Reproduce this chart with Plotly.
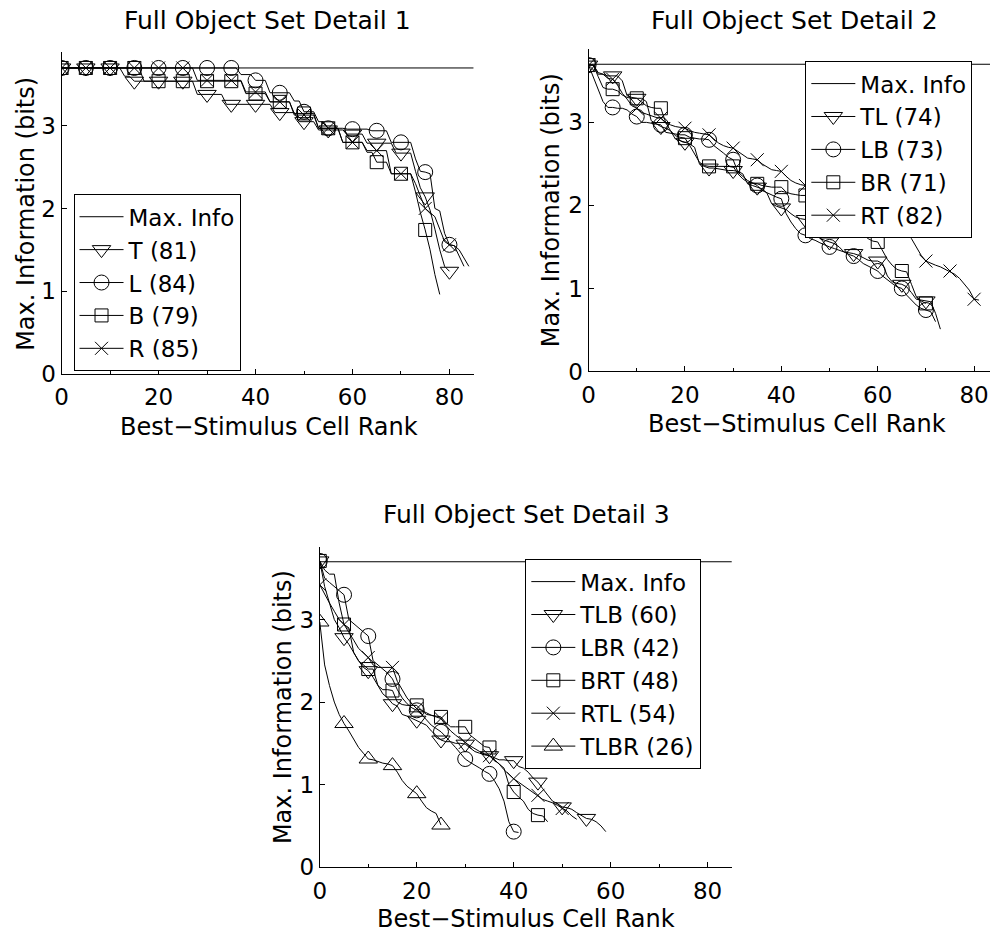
import plotly.graph_objects as go

W, H = 992, 939
FONT = "DejaVu Sans"
FS_TITLE = 25
FS_LABEL = 24
FS_TICK = 23
FS_LEG = 23

MAX_INFO = 3.70
TITLES = ["Full Object Set Detail 1", "Full Object Set Detail 2", "Full Object Set Detail 3"]
X_LABEL = "Best\u2212Stimulus Cell Rank"
Y_LABEL = "Max. Information (bits)"
X_TICKS = [0, 20, 40, 60, 80]
X_MINOR = [10, 30, 50, 70]
Y_TICKS = [0, 1, 2, 3]
X_MAX = [85, 83.3, 85]
Y_MAX = [3.89, 3.88, 3.875]

# ---------- panel 1 ----------
P1_T = [3.70, 3.70, 3.70, 3.70, 3.70, 3.70, 3.70, 3.70, 3.70, 3.70, 3.70, 3.70, 3.70,
        3.60, 3.60,
        3.54, 3.54, 3.54, 3.54, 3.54, 3.54, 3.54, 3.54, 3.54, 3.54, 3.54, 3.54, 3.54,
        3.38, 3.38, 3.38, 3.38, 3.38, 3.38,
        3.26, 3.26, 3.26, 3.26, 3.26, 3.26, 3.26, 3.26, 3.26, 3.26,
        3.16, 3.16, 3.16, 3.16, 3.16,
        3.05, 3.05, 3.05, 3.05,
        2.95, 2.95, 2.95, 2.95, 2.95, 2.95,
        2.90, 2.90, 2.90, 2.90,
        2.79, 2.79, 2.79, 2.79, 2.79, 2.79,
        2.67, 2.67, 2.67, 2.67,
        2.45, 2.25, 2.14, 1.98, 1.75, 1.50, 1.30, 1.24]
P1_L = [3.70, 3.70, 3.70, 3.70, 3.70, 3.70, 3.70, 3.70, 3.70, 3.70,
        3.70, 3.70, 3.70, 3.70, 3.70, 3.70, 3.70, 3.70, 3.70, 3.70,
        3.70, 3.70, 3.70, 3.70, 3.70, 3.70, 3.70, 3.70, 3.70, 3.70,
        3.70, 3.70, 3.70, 3.70, 3.70, 3.70, 3.70,
        3.62, 3.62, 3.62,
        3.55, 3.55, 3.55,
        3.40, 3.40, 3.40, 3.40, 3.40,
        3.30, 3.30,
        3.17, 3.17, 3.17,
        3.05, 3.05,
        2.97, 2.97, 2.97, 2.97,
        2.96, 2.96, 2.96, 2.96, 2.96,
        2.94, 2.94, 2.94, 2.94,
        2.80, 2.80, 2.80, 2.80, 2.80,
        2.60, 2.45, 2.44, 2.42, 2.00, 1.97, 1.70, 1.56, 1.55, 1.42, 1.30]
P1_B = [3.70, 3.70, 3.70, 3.70, 3.70, 3.70, 3.70, 3.70, 3.70, 3.70,
        3.70, 3.70, 3.70, 3.70, 3.70, 3.70, 3.70,
        3.54, 3.54, 3.54, 3.54, 3.54, 3.54, 3.54, 3.54, 3.54, 3.54, 3.54, 3.54,
        3.54, 3.54, 3.54, 3.54, 3.54, 3.54, 3.54, 3.54, 3.54,
        3.39, 3.39, 3.39, 3.39, 3.39,
        3.29, 3.29, 3.29, 3.29, 3.29,
        3.15, 3.15, 3.15, 3.15, 3.15,
        2.97, 2.97, 2.97, 2.97, 2.97,
        2.80, 2.80, 2.80, 2.80, 2.80,
        2.68, 2.68,
        2.56, 2.56, 2.56,
        2.42, 2.42, 2.42, 2.42, 2.42,
        2.20, 1.95, 1.74, 1.50, 1.20, 0.96]
P1_R = [3.70, 3.70, 3.70, 3.70, 3.70, 3.70, 3.70, 3.70, 3.70, 3.70,
        3.70, 3.70, 3.70, 3.70, 3.70, 3.70, 3.70, 3.70, 3.70, 3.70,
        3.70, 3.70, 3.70, 3.70, 3.70, 3.70, 3.70, 3.70,
        3.55, 3.55, 3.55, 3.55, 3.55, 3.55, 3.55, 3.55, 3.55, 3.55,
        3.41, 3.41, 3.41, 3.41, 3.41,
        3.29, 3.29, 3.29, 3.29, 3.29,
        3.13, 3.13, 3.13, 3.13, 3.13,
        2.97, 2.97, 2.97, 2.97, 2.97,
        2.80, 2.80, 2.80, 2.80, 2.80,
        2.70, 2.70, 2.70, 2.70, 2.70,
        2.42, 2.42, 2.42, 2.42, 2.42,
        2.30, 2.15, 2.00, 1.95, 1.90, 1.75, 1.60, 1.56, 1.55, 1.50, 1.40, 1.30]

# ---------- panel 2 ----------
P2_TL = [3.69, 3.69, 3.58, 3.58, 3.56, 3.56, 3.56, 3.50,
         3.32, 3.30, 3.29, 3.29, 3.25,
         3.02, 2.98, 2.95, 2.93, 2.90,
         2.80, 2.78, 2.76, 2.74, 2.70,
         2.50, 2.47, 2.45, 2.45, 2.44,
         2.43, 2.42, 2.42, 2.41, 2.38,
         2.26, 2.24, 2.22, 2.20, 2.15,
         2.02, 1.99, 1.97, 1.95, 1.90,
         1.86, 1.84, 1.83, 1.80, 1.70,
         1.60, 1.58, 1.56, 1.54, 1.50,
         1.44, 1.43, 1.42, 1.40, 1.37,
         1.34, 1.33, 1.33, 1.30, 1.15,
         1.08, 1.06, 1.05, 1.02, 0.95,
         0.87, 0.86, 0.85, 0.84,
         0.70, 0.51]
P2_LB = [3.69, 3.55, 3.40, 3.25, 3.18, 3.18, 3.17, 3.17, 3.15, 3.10,
         3.07, 3.00, 3.00, 2.99, 2.98, 2.97, 2.88, 2.87, 2.86, 2.85,
         2.85, 2.82, 2.81, 2.80, 2.80, 2.79, 2.72, 2.68, 2.63, 2.58,
         2.55, 2.40, 2.35, 2.30, 2.27, 2.24, 2.18, 2.15, 2.12, 2.10,
         2.08, 1.90, 1.80, 1.72, 1.66, 1.64, 1.60, 1.58, 1.55, 1.52,
         1.50, 1.48, 1.46, 1.44, 1.41, 1.39, 1.35, 1.30, 1.27, 1.24,
         1.21, 1.15, 1.10, 1.06, 1.02, 1.00, 0.92, 0.86, 0.80, 0.76,
         0.74, 0.72, 0.60]
P2_BR = [3.69, 3.69, 3.55, 3.42, 3.40, 3.40, 3.38, 3.33, 3.30, 3.29,
         3.29, 3.25, 3.20, 3.18, 3.17, 3.17, 3.00, 2.90, 2.84, 2.82,
         2.81, 2.72, 2.62, 2.52, 2.48, 2.47, 2.47, 2.47, 2.47, 2.47,
         2.47, 2.38, 2.32, 2.28, 2.27, 2.26, 2.24, 2.23, 2.22, 2.22,
         2.22, 2.16, 2.14, 2.13, 2.12, 2.12, 2.05, 2.00, 1.97, 1.95,
         1.94, 1.90, 1.85, 1.82, 1.80, 1.78, 1.72, 1.65, 1.60, 1.57,
         1.56, 1.45, 1.35, 1.28, 1.23, 1.21, 1.20, 1.05, 0.90, 0.85,
         0.82]
P2_RT = [3.69, 3.69, 3.60, 3.58, 3.53, 3.52, 3.45, 3.35, 3.28, 3.20,
         3.17, 3.12, 3.10, 3.08, 3.06, 3.05, 3.00, 2.97, 2.95, 2.94,
         2.93, 2.90, 2.88, 2.87, 2.86, 2.85, 2.80, 2.75, 2.72, 2.70,
         2.69, 2.65, 2.60, 2.57, 2.56, 2.55, 2.50, 2.46, 2.43, 2.42,
         2.41, 2.35, 2.30, 2.27, 2.25, 2.24, 2.20, 2.16, 2.13, 2.11,
         2.10, 2.06, 2.02, 1.99, 1.97, 1.95, 1.93, 1.90, 1.88, 1.86,
         1.85, 1.82, 1.78, 1.74, 1.71, 1.70, 1.66, 1.60, 1.50, 1.40,
         1.33, 1.30, 1.28, 1.26, 1.23, 1.21, 1.17, 1.12, 1.05, 0.98,
         0.87, 0.86]

# ---------- panel 3 ----------
P3_TLB = [3.71, 3.40, 3.20, 3.00, 2.90, 2.78, 2.70, 2.60, 2.50, 2.42,
          2.38, 2.30, 2.20, 2.10, 2.05, 1.98, 1.95, 1.85, 1.83, 1.80,
          1.78, 1.75, 1.72, 1.65, 1.60, 1.54, 1.52, 1.52, 1.50, 1.50,
          1.49, 1.45, 1.40, 1.38, 1.36, 1.35, 1.32, 1.30, 1.30, 1.29,
          1.29, 1.22, 1.20, 1.15, 1.08, 1.03, 0.95, 0.88, 0.80, 0.77,
          0.73, 0.72, 0.70, 0.66, 0.62, 0.59, 0.58, 0.55, 0.50, 0.43]
P3_LBR = [3.71, 3.50, 3.45, 3.40, 3.35, 3.30, 3.00, 2.95, 2.90, 2.85,
          2.80, 2.50, 2.45, 2.40, 2.35, 2.28, 2.15, 2.05, 1.98, 1.93,
          1.90, 1.85, 1.78, 1.72, 1.68, 1.64, 1.58, 1.52, 1.45, 1.38,
          1.31, 1.27, 1.24, 1.20, 1.16, 1.13, 1.05, 0.95, 0.80, 0.55,
          0.43, 0.42]
P3_BRT = [3.71, 3.60, 3.55, 3.55, 3.20, 2.94, 2.90, 2.60, 2.50, 2.45,
          2.40, 2.40, 2.20, 2.15, 2.15, 2.14, 2.00, 1.97, 1.96, 1.96,
          1.96, 1.90, 1.85, 1.84, 1.83, 1.82, 1.75, 1.70, 1.70, 1.70,
          1.70, 1.60, 1.55, 1.50, 1.46, 1.45, 1.30, 1.25, 1.20, 1.00,
          0.91, 0.85, 0.80, 0.70, 0.65, 0.63, 0.62, 0.55]
P3_RTL = [3.42, 3.30, 3.20, 3.10, 3.00, 2.94, 2.85, 2.75, 2.65, 2.60,
          2.54, 2.45, 2.42, 2.42, 2.42, 2.42, 2.25, 2.15, 2.05, 1.98,
          1.92, 1.90, 1.87, 1.84, 1.82, 1.80, 1.72, 1.65, 1.60, 1.55,
          1.51, 1.47, 1.43, 1.40, 1.37, 1.35, 1.30, 1.25, 1.18, 1.12,
          1.07, 1.03, 0.99, 0.95, 0.90, 0.87, 0.82, 0.80, 0.78, 0.75,
          0.71, 0.68, 0.62, 0.58]
P3_TLBR = [2.97, 2.45, 2.20, 2.00, 1.85, 1.74, 1.65, 1.55, 1.45, 1.38,
           1.31, 1.30, 1.28, 1.26, 1.25, 1.23, 1.15, 1.05, 0.98, 0.93,
           0.89, 0.80, 0.72, 0.68, 0.65, 0.51]

SYM = {"T": "triangle-down-open", "L": "circle-open", "B": "square-open",
       "R": "x-thin-open", "U": "triangle-up-open"}
MSIZE = {"T": 16, "L": 15, "B": 13, "R": 13, "U": 16}

PANELS = [
    [("T (81)", P1_T, "T"), ("L (84)", P1_L, "L"), ("B (79)", P1_B, "B"), ("R (85)", P1_R, "R")],
    [("TL (74)", P2_TL, "T"), ("LB (73)", P2_LB, "L"), ("BR (71)", P2_BR, "B"), ("RT (82)", P2_RT, "R")],
    [("TLB (60)", P3_TLB, "T"), ("LBR (42)", P3_LBR, "L"), ("BRT (48)", P3_BRT, "B"),
     ("RTL (54)", P3_RTL, "R"), ("TLBR (26)", P3_TLBR, "U")],
]

# pixel geometry of the three axes boxes (left, right, top, bottom)
BOX = [(55, 470, 53, 379), (585.7, 990, 50, 376.7), (315, 730, 555, 879.3)]
LEG = [(67, 197), (804, 62), (522, 567)]
TITLE_POS = [(262, 21), (793, 21), (523, 522)]
XLAB_POS = [(264, 433), (796, 430), (523, 932)]
YLAB_POS = [(19, 217), (548, 213), (278, 717)]

LINE_COL = "#000000"
fig = go.Figure()

for p, series in enumerate(PANELS):
    sfx = "" if p == 0 else str(p + 1)
    xa, ya = "x" + sfx, "y" + sfx
    leg = "legend" + sfx
    fig.add_trace(go.Scatter(x=[0, X_MAX[p]], y=[MAX_INFO, MAX_INFO], mode="lines",
                             line=dict(color=LINE_COL, width=1), name="Max. Info",
                             xaxis=xa, yaxis=ya, legend=leg, showlegend=True))
    for name, vals, key in series:
        xs = list(range(len(vals)))
        fig.add_trace(go.Scatter(x=xs, y=vals, mode="lines",
                                 line=dict(color=LINE_COL, width=1),
                                 xaxis=xa, yaxis=ya, showlegend=False, hoverinfo="skip"))
        fig.add_trace(go.Scatter(x=xs[::5], y=vals[::5], mode="markers",
                                 marker=dict(symbol=SYM[key], size=MSIZE[key], color=LINE_COL,
                                             line=dict(color=LINE_COL, width=1)),
                                 xaxis=xa, yaxis=ya, showlegend=False))
        fig.add_trace(go.Scatter(x=[None], y=[None], mode="lines+markers", name=name,
                                 line=dict(color=LINE_COL, width=1),
                                 marker=dict(symbol=SYM[key], size=MSIZE[key], color=LINE_COL,
                                             line=dict(color=LINE_COL, width=1)),
                                 xaxis=xa, yaxis=ya, legend=leg, showlegend=True))

layout = dict(width=W, height=H, margin=dict(l=0, r=0, t=0, b=0),
              paper_bgcolor="white", plot_bgcolor="white",
              font=dict(family=FONT, size=FS_LABEL, color="black"), annotations=[])

for p in range(3):
    sfx = "" if p == 0 else str(p + 1)
    l, r, t, b = BOX[p]
    layout["xaxis" + sfx] = dict(domain=[l / W, r / W], range=[0, X_MAX[p]], anchor="y" + sfx,
                                 showline=True, linecolor="black", linewidth=1, showgrid=False,
                                 zeroline=False, ticks="inside", ticklen=5, tickcolor="black",
                                 tickvals=X_TICKS, ticklabelstandoff=3,
                                 minor=dict(ticks="inside", ticklen=3, tickcolor="black",
                                            tickvals=X_MINOR),
                                 tickfont=dict(family=FONT, size=FS_TICK))
    layout["yaxis" + sfx] = dict(domain=[1 - b / H, 1 - t / H], range=[0, Y_MAX[p]], anchor="x" + sfx,
                                 showline=True, linecolor="black", linewidth=1, showgrid=False,
                                 zeroline=False, ticks="inside", ticklen=5, tickcolor="black",
                                 tickvals=Y_TICKS, tickfont=dict(family=FONT, size=FS_TICK))
    lx, ly = LEG[p]
    layout["legend" + sfx] = dict(x=lx / W, y=1 - ly / H, xanchor="left", yanchor="top",
                                  xref="paper", yref="paper",
                                  bgcolor="white", bordercolor="black", borderwidth=1,
                                  font=dict(family=FONT, size=FS_LEG), tracegroupgap=0,
                                  itemwidth=44)
    tx, ty = TITLE_POS[p]
    layout["annotations"].append(dict(text=TITLES[p], x=tx / W, y=1 - ty / H, xref="paper", yref="paper",
                                      xanchor="center", yanchor="middle", showarrow=False,
                                      font=dict(family=FONT, size=FS_TITLE)))
    xx, xy = XLAB_POS[p]
    layout["annotations"].append(dict(text=X_LABEL, x=xx / W, y=1 - xy / H, xref="paper", yref="paper",
                                      xanchor="center", yanchor="middle", showarrow=False,
                                      font=dict(family=FONT, size=FS_LABEL)))
    yx, yy = YLAB_POS[p]
    layout["annotations"].append(dict(text=Y_LABEL, x=yx / W, y=1 - yy / H, xref="paper", yref="paper",
                                      xanchor="center", yanchor="middle", showarrow=False, textangle=-90,
                                      font=dict(family=FONT, size=FS_LABEL)))

fig.update_layout(**layout)
fig.write_html("out.html")
